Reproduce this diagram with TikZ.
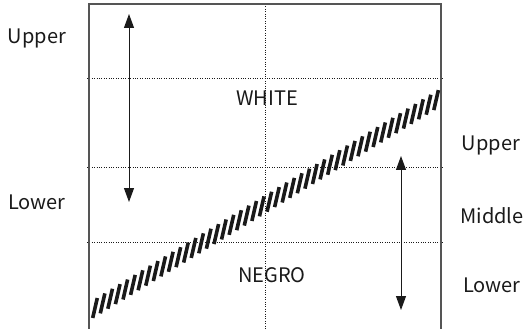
\documentclass[tikz,border=0pt]{standalone}
\usepackage{fontspec}
\setmainfont{Noto Sans CJK SC}
\usetikzlibrary{arrows.meta,calc}
\definecolor{framegray}{HTML}{555555}
\definecolor{inkblack}{HTML}{1A1A1A}
\tikzset{
  gridline/.style={line width=0.9pt,inkblack,dash pattern=on 1pt off 1.4pt},
  rangearrow/.style={line width=1pt,inkblack,{Triangle[width=10pt,length=14pt]}-{Triangle[width=10pt,length=14pt]}},
  lbl/.style={font=\fontsize{20}{24}\selectfont,text=inkblack,inner sep=0pt}
}
\begin{document}
\begin{tikzpicture}[x=1pt,y=-1pt]
    \useasboundingbox (0,0) rectangle (523,329);
    % grid
    \draw[gridline] (265,4)--(265,329);
    \foreach \y in {78,167,242}{\draw[gridline] (87,\y)--(443,\y);}
    \draw[line width=1.2pt,framegray] (89,329)--(89,4)--(441,4)--(441,329);
    % hatched band
    \foreach \i in {0,...,45}{\draw[line width=3.6pt,inkblack] ($(95,308)+\i*(7.58,-4.62)+(-2.3,10)$)--++(4.6,-20);}
    % ranges
    \coordinate (lefttop) at (129,14);
    \coordinate (leftbot) at (129,202);
    \coordinate (righttop) at (401,156);
    \coordinate (rightbot) at (401,310);
    \draw[rangearrow] (lefttop)--(leftbot);
    \draw[rangearrow] (righttop)--(rightbot);
    \node[lbl] (upperL) at (37,38) {Upper};
    \node[lbl] (lowerL) at (37,202) {Lower};
    \node[lbl] (white) at (267,98) {WHITE};
    \node[lbl] (negro) at (272,275) {NEGRO};
    \node[lbl] (upperR) at (491,145) {Upper};
    \node[lbl] (middleR) at (492,216) {Middle};
    \node[lbl] (lowerR) at (492,285) {Lower};
  \end{tikzpicture}
\end{document}
